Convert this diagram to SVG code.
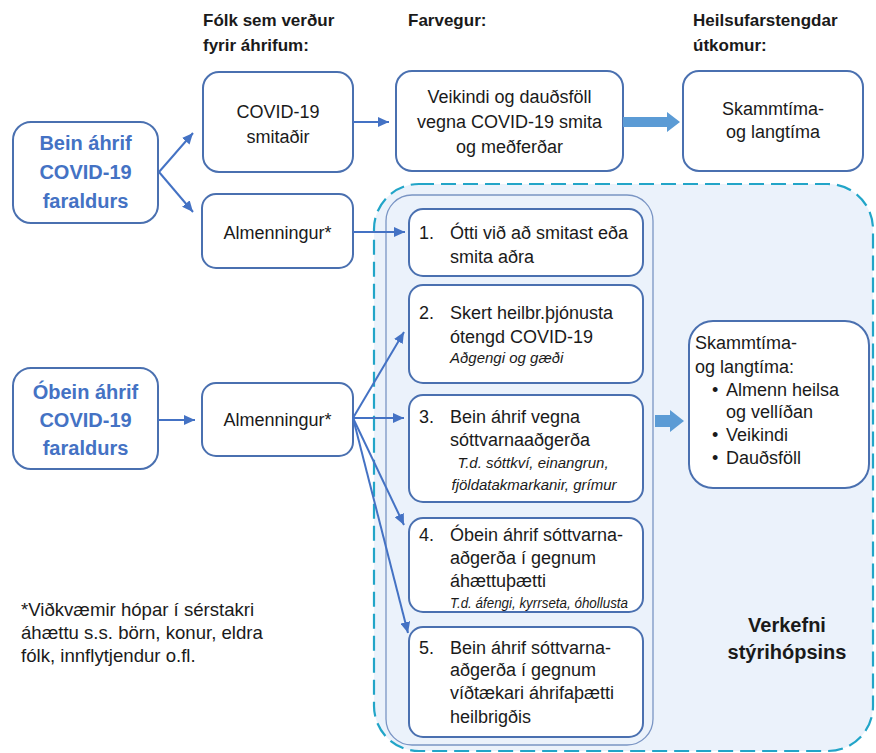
<svg xmlns="http://www.w3.org/2000/svg" width="876" height="753" viewBox="0 0 876 753">
<style>
.box{fill:#fff;stroke:#4a70b0;stroke-width:2}
.t{font-family:"Liberation Sans",Arial,sans-serif;font-size:18px;fill:#1a1a1a}
.c{text-anchor:middle}
.hb{font-weight:bold;font-size:17px}
.blue{font-weight:bold;font-size:20px;fill:#4472c4}
.it{font-style:italic;font-size:15px}
.bold{font-weight:bold;font-size:20px}
.fn{font-size:18.6px}
.conn{stroke:#4472c4;stroke-width:2;fill:none;marker-end:url(#ah)}
.thick{fill:#5b9bd5}
</style>
<defs>
<marker id="ah" markerUnits="userSpaceOnUse" markerWidth="11" markerHeight="10" refX="11" refY="5" orient="auto">
<path d="M0,0 L11,5 L0,10 z" fill="#4472c4"/>
</marker>
</defs>
<rect width="876" height="753" fill="#fff"/>

<g id="container">
<rect x="374" y="184" width="499" height="567" rx="45" fill="#ebf2fb" stroke="#22a5c8" stroke-width="2.2" stroke-dasharray="15 7"/>
<rect x="386" y="195" width="267" height="550" rx="26" fill="#ebf2fb" stroke="#7a95c4" stroke-width="1.3"/>
</g>

<g id="headers">
<text class="t hb" x="203" y="26">Fólk sem verður</text>
<text class="t hb" x="203" y="51">fyrir áhrifum:</text>
<text class="t hb" x="408" y="26">Farvegur:</text>
<text class="t hb" x="693" y="26">Heilsufarstengdar</text>
<text class="t hb" x="693" y="51">útkomur:</text>
</g>

<g id="bein">
<rect class="box" x="13" y="122" width="145" height="101" rx="18"/>
<text class="t c blue" x="85.5" y="150">Bein áhrif</text>
<text class="t c blue" x="85.5" y="179">COVID-19</text>
<text class="t c blue" x="85.5" y="208">faraldurs</text>
</g>

<g id="obein">
<rect class="box" x="13" y="368" width="145" height="101" rx="18"/>
<text class="t c blue" x="85.5" y="399">Óbein áhrif</text>
<text class="t c blue" x="85.5" y="427">COVID-19</text>
<text class="t c blue" x="85.5" y="455">faraldurs</text>
</g>

<g id="smitadir">
<rect class="box" x="203" y="72" width="150" height="100" rx="16"/>
<text class="t c" x="278" y="118">COVID-19</text>
<text class="t c" x="278" y="143">smitaðir</text>
</g>

<g id="almenningur1">
<rect class="box" x="202" y="194" width="151" height="74" rx="14"/>
<text class="t c" x="277.5" y="239">Almenningur*</text>
</g>

<g id="almenningur2">
<rect class="box" x="202" y="383" width="151" height="73" rx="14"/>
<text class="t c" x="277.5" y="426">Almenningur*</text>
</g>

<g id="veikindi">
<rect class="box" x="396" y="71" width="227" height="100" rx="16"/>
<text class="t c" x="509.5" y="103">Veikindi og dauðsföll</text>
<text class="t c" x="509.5" y="128">vegna COVID-19 smita</text>
<text class="t c" x="509.5" y="153">og meðferðar</text>
</g>

<g id="utkoma1">
<rect class="box" x="683" y="71" width="180" height="100" rx="16"/>
<text class="t c" x="773" y="115">Skammtíma-</text>
<text class="t c" x="773" y="138">og langtíma</text>
</g>

<g id="n1">
<rect class="box" x="409" y="209" width="234" height="67" rx="14"/>
<text class="t" x="419" y="239">1.</text>
<text class="t" x="450" y="239">Ótti við að smitast eða</text>
<text class="t" x="450" y="263">smita aðra</text>
</g>

<g id="n2">
<rect class="box" x="409" y="285" width="234" height="98" rx="14"/>
<text class="t" x="419" y="319">2.</text>
<text class="t" x="450" y="319">Skert heilbr.þjónusta</text>
<text class="t" x="450" y="343">ótengd COVID-19</text>
<text class="t it" x="450" y="363">Aðgengi og gæði</text>
</g>

<g id="n3">
<rect class="box" x="409" y="395" width="234" height="107" rx="14"/>
<text class="t" x="419" y="423">3.</text>
<text class="t" x="450" y="423">Bein áhrif vegna</text>
<text class="t" x="450" y="446">sóttvarnaaðgerða</text>
<text class="t c it" x="533" y="468">T.d. sóttkví, einangrun,</text>
<text class="t c it" x="534" y="490">fjöldatakmarkanir, grímur</text>
</g>

<g id="n4">
<rect class="box" x="409" y="518" width="234" height="94" rx="14"/>
<text class="t" x="419" y="541">4.</text>
<text class="t" x="450" y="541">Óbein áhrif sóttvarna-</text>
<text class="t" x="450" y="564">aðgerða í gegnum</text>
<text class="t" x="450" y="587">áhættuþætti</text>
<text class="t it" x="450" y="608" font-size="14" textLength="178" lengthAdjust="spacingAndGlyphs">T.d. áfengi, kyrrseta, óhollusta</text>
</g>

<g id="n5">
<rect class="box" x="409" y="627" width="234" height="110" rx="14"/>
<text class="t" x="419" y="654">5.</text>
<text class="t" x="450" y="654">Bein áhrif sóttvarna-</text>
<text class="t" x="450" y="676">aðgerða í gegnum</text>
<text class="t" x="450" y="699">víðtækari áhrifaþætti</text>
<text class="t" x="450" y="723">heilbrigðis</text>
</g>

<g id="utkoma2">
<rect class="box" x="689" y="321" width="180" height="167" rx="24"/>
<text class="t" x="695" y="349">Skammtíma-</text>
<text class="t" x="695" y="373">og langtíma:</text>
<text class="t" x="712" y="396">•</text>
<text class="t" x="726" y="396">Almenn heilsa</text>
<text class="t" x="726" y="418">og vellíðan</text>
<text class="t" x="712" y="441">•</text>
<text class="t" x="726" y="441">Veikindi</text>
<text class="t" x="712" y="464">•</text>
<text class="t" x="726" y="464">Dauðsföll</text>
</g>

<g id="verkefni">
<text class="t c bold" x="787" y="632">Verkefni</text>
<text class="t c bold" x="787" y="659">stýrihópsins</text>
</g>

<g id="footnote">
<text class="t fn" x="21" y="616">*Viðkvæmir hópar í sérstakri</text>
<text class="t fn" x="21" y="639">áhættu s.s. börn, konur, eldra</text>
<text class="t fn" x="21" y="662">fólk, innflytjendur o.fl.</text>
</g>

<g id="connectors">
<path class="conn" d="M159,172 L193,133"/>
<path class="conn" d="M159,172 L193,212"/>
<path class="conn" d="M353,122 L389,122"/>
<path class="conn" d="M353,232 L405,232"/>
<path class="conn" d="M158,420 L195,420"/>
<path class="conn" d="M353,418 L404,332"/>
<path class="conn" d="M353,418 L404,418"/>
<path class="conn" d="M353,418 L404,525"/>
<path class="conn" d="M353,418 L408,633"/>
<polygon class="thick" points="623,117 667,117 667,112 680,122 667,132 667,127 623,127"/>
<polygon class="thick" points="655,415 670,415 670,410 684,421 670,432 670,427 655,427"/>
</g>
</svg>
